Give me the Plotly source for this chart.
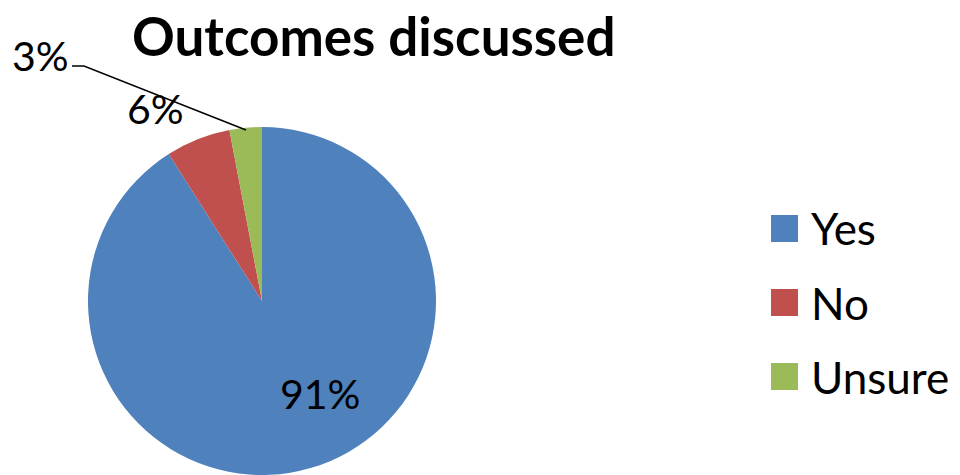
import plotly.graph_objects as go

# Data
categories = ["Yes", "No", "Unsure"]
values = [91, 6, 3]
colors = ["#4F81BD", "#C0504D", "#9BBB59"]
title_text = "Outcomes discussed"

W, H = 960, 475
FONT = "Lato"
OFF = 8  # page body margin offset


def px(x, y):
    return (x - OFF) / W, 1 - (y - OFF) / H


# Pie geometry (pixels in the screenshot)
cx, cy, r = 262, 301, 174
dx0, dy1 = px(cx - r, cy - r)
dx1, dy0 = px(cx + r, cy + r)

fig = go.Figure()
fig.add_trace(go.Pie(
    labels=categories,
    values=values,
    sort=False,
    direction="clockwise",
    rotation=0,
    marker=dict(colors=colors, line=dict(width=0)),
    textinfo="none",
    hoverinfo="label+percent",
    showlegend=False,
    domain=dict(x=[dx0, dx1], y=[dy0, dy1]),
))

annotations = []
shapes = []

# Percent labels
label_pos = [(320, 393), (155, 109), (40, 55)]
for v, (lx, ly) in zip(values, label_pos):
    ax, ay = px(lx, ly)
    annotations.append(dict(x=ax, y=ay, xref="paper", yref="paper", text=f"{v}%",
                            showarrow=False, xanchor="center", yanchor="middle",
                            font=dict(family=FONT, size=41, color="#000000")))

# Leader line for the small slice
x0, y0 = px(72, 66)
x1, y1 = px(84, 66)
x2, y2 = px(246, 130)
shapes.append(dict(type="path", xref="paper", yref="paper",
                   path=f"M {x0} {y0} L {x1} {y1} L {x2} {y2}",
                   line=dict(color="#000000", width=1.5)))

# Title
tx, ty = px(374, 35)
annotations.append(dict(x=tx, y=ty, xref="paper", yref="paper", text=f"<b>{title_text}</b>",
                        showarrow=False, xanchor="center", yanchor="middle",
                        font=dict(family=FONT, size=53, color="#000000")))

# Legend (custom)
leg_y = [228.5, 302.5, 376.5]
for cat, col, ly in zip(categories, colors, leg_y):
    sx0, sy0 = px(771, ly - 13.5)
    sx1, sy1 = px(798, ly + 13.5)
    shapes.append(dict(type="rect", xref="paper", yref="paper",
                       x0=sx0, x1=sx1, y0=sy1, y1=sy0,
                       fillcolor=col, line=dict(width=0)))
    lx, lyp = px(809, ly)
    annotations.append(dict(x=lx, y=lyp, xref="paper", yref="paper", text=cat,
                            showarrow=False, xanchor="left", yanchor="middle",
                            font=dict(family=FONT, size=44, color="#000000")))

fig.update_layout(
    width=W, height=H,
    margin=dict(l=0, r=0, t=0, b=0),
    paper_bgcolor="#FFFFFF",
    plot_bgcolor="#FFFFFF",
    showlegend=False,
    annotations=annotations,
    shapes=shapes,
)

fig.write_html("out.html")
